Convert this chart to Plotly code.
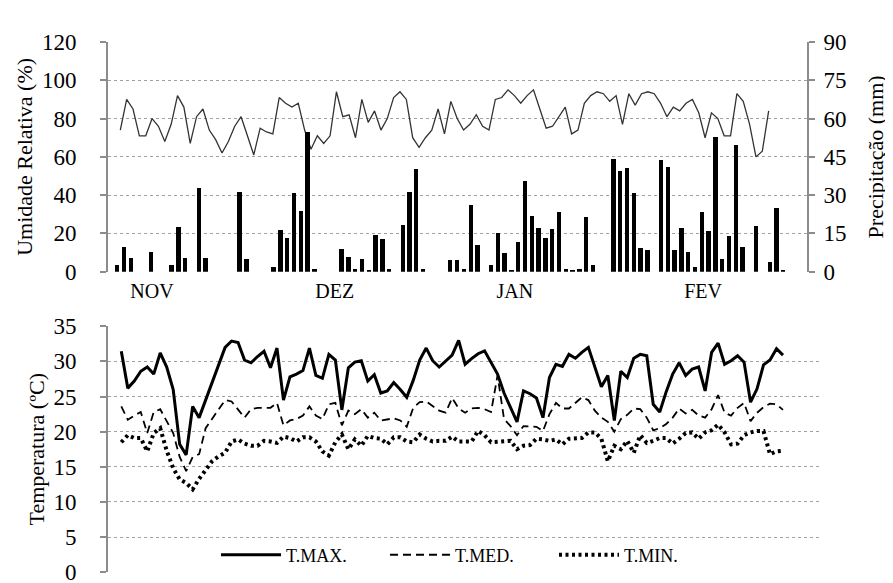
import plotly.graph_objects as go

# ---------------- data ----------------
months = ["NOV", "DEZ", "JAN", "FEV"]
month_pos = [5.1, 32.0, 58.5, 86.2]  # position on the precipitation (bar) day axis

umidade = [74, 90, 85, 71, 71, 80, 76, 68, 77, 92, 86, 67, 81, 85, 74, 69, 62, 68, 76, 81,
           71, 61, 75, 73, 72, 91, 88, 86, 88, 74, 64, 71, 67, 71, 94, 81, 82, 70, 90, 78,
           84, 74, 80, 91, 94, 90, 70, 65, 70, 74, 85, 72, 89, 80, 74, 77, 82, 76, 74, 90,
           91, 95, 92, 88, 92, 95, 85, 75, 76, 81, 86, 72, 74, 88, 92, 94, 93, 89, 92, 77,
           93, 87, 93, 94, 93, 88, 81, 86, 84, 88, 90, 83, 70, 83, 80, 71, 71, 93, 89, 77,
           60, 63, 84]

precipitacao = [2.75, 9.6, 5.25, 0, 0, 7.75, 0, 0, 2.75, 17.6,
                5.25, 0, 32.7, 5.5, 0, 0, 0, 0, 31.1, 4.9,
                0, 0, 0, 1.75, 16.5, 13.25, 30.75, 23.9, 54.6, 1.1,
                0, 0, 0, 9.0, 5.75, 1.1, 4.9, 0.75, 14.5, 13.0,
                0.9, 0, 18.25, 31.1, 40.1, 1.1, 0, 0, 0, 4.5,
                4.5, 1.25, 26.0, 10.4, 0, 2.5, 15.0, 7.25, 0.4, 11.6,
                35.6, 22.0, 17.25, 13.1, 16.9, 23.5, 1.25, 0.4, 1.25, 21.4,
                2.5, 0, 0, 44.1, 39.5, 40.6, 31.0, 9.4, 8.5, 0,
                43.75, 41.0, 8.5, 17.0, 7.9, 2.0, 23.5, 16.0, 52.6, 5.1,
                13.9, 49.75, 9.5, 0, 17.9, 0, 3.9, 25.1, 0.6]

t_max = [31.45, 26.2, 27.2, 28.6, 29.2, 28.2, 31.2, 29.2, 26.0, 18.2,
         16.7, 23.6, 22.0, 24.5, 27.0, 29.5, 32.0, 32.9, 32.7, 30.2,
         29.8, 30.7, 31.45, 29.1, 31.9, 24.5, 27.8, 28.2, 28.7, 31.9,
         28.0, 27.6, 31.0, 30.2, 23.1, 29.1, 29.9, 30.1, 27.2, 28.1,
         25.5, 25.8, 27.0, 26.0, 24.9, 27.3, 30.2, 31.9, 30.1, 29.2,
         30.0, 30.9, 33.0,
         29.6, 30.4, 31.1, 31.5, 29.9, 28.2, 25.5, 23.4, 21.4, 25.8,
         25.4, 24.8, 22.0, 27.7, 29.6, 29.3, 31.0, 30.45, 31.3, 32.0,
         29.1, 26.4, 28.0, 21.6, 28.6, 27.7, 30.45, 31.0, 30.8, 23.9,
         22.8, 25.7, 28.2, 29.8, 28.0, 28.9, 29.2, 25.8, 31.3, 32.6,
         29.6, 30.1, 30.8, 29.9, 24.2, 26.1, 29.5, 30.2, 31.8, 30.9]

t_med = [23.6, 21.7, 22.3, 22.8, 19.8, 22.8, 23.2, 21.5, 19.8, 16.4,
         14.4, 16.4, 16.8, 20.5, 21.8, 23.2, 24.5, 24.3, 23.2, 22.0,
         23.2, 23.4, 23.4, 23.4, 24.1, 20.9, 21.6, 21.8, 22.3, 23.6,
         22.3, 21.8, 23.9, 24.1, 20.9, 23.0, 22.5, 23.2, 22.0, 22.7,
         21.6, 21.8, 21.9, 21.6, 20.7, 23.4, 24.2, 24.3, 23.6, 23.0,
         22.7, 24.8, 23.3,
         22.7, 23.3, 23.4, 23.2, 22.8, 28.0, 21.8, 20.8, 19.5, 20.8,
         20.8, 20.7, 20.1, 22.5, 24.1, 23.3, 23.3, 24.1, 24.9, 24.5,
         23.0, 22.0, 21.4, 20.0, 21.8, 22.4, 23.3, 23.2, 22.0, 20.2,
         20.5, 21.1, 22.0, 23.3, 22.6, 23.1, 22.3, 22.0, 23.2, 25.2,
         22.7, 22.3, 23.4, 24.1, 21.5, 22.7, 23.5, 24.0, 23.9, 23.1]

t_min = [18.5, 19.5, 19.1, 19.1, 17.2, 19.8, 20.5, 17.3, 14.8, 13.2,
         12.7, 11.8, 13.3, 14.6, 15.8, 16.5, 17.0, 18.6, 18.9, 18.3,
         18.0, 18.0, 18.7, 18.6, 18.4, 19.3, 19.1, 18.6, 19.2, 19.2,
         18.6, 17.2, 16.6, 18.5, 19.6, 17.5, 18.9, 18.0, 19.4, 19.1,
         19.0, 18.2, 19.2, 19.2, 18.6, 18.5, 19.6, 19.0, 18.6, 18.7,
         18.7, 19.3, 18.6,
         18.6, 18.6, 20.1, 19.5, 18.5, 18.6, 18.6, 18.7, 17.5, 18.0,
         18.1, 19.0, 18.9, 18.7, 18.9, 18.2, 19.0, 19.1, 19.1, 19.9,
         19.9, 19.0, 15.8, 18.0, 17.5, 18.7, 17.0, 19.5, 18.4, 18.7,
         19.1, 19.1, 18.3, 19.0, 19.8, 19.9, 19.0, 19.9, 20.2, 21.0,
         19.9, 18.2, 18.3, 19.5, 19.9, 20.1, 20.1, 16.8, 17.2, 17.3]

# ---------------- figure ----------------
FONT = "Liberation Serif"
GRID = "#a0a0a0"
AXIS = "#8c8c8c"

fig = go.Figure()

fig.add_trace(go.Scatter(
    x=list(range(len(umidade))), y=umidade, xaxis="x", yaxis="y",
    mode="lines", line=dict(color="#333333", width=1.3), showlegend=False,
    hoverinfo="skip"))

fig.add_trace(go.Bar(
    x=list(range(len(precipitacao))), y=precipitacao, xaxis="x2", yaxis="y2",
    marker=dict(color="black", line=dict(width=0)), width=0.64, showlegend=False,
    hoverinfo="skip"))

tx = list(range(len(t_max)))
fig.add_trace(go.Scatter(x=tx, y=t_max, xaxis="x3", yaxis="y3", mode="lines",
                         name="T.MAX.", line=dict(color="black", width=3)))
fig.add_trace(go.Scatter(x=tx, y=t_med, xaxis="x3", yaxis="y3", mode="lines",
                         name="T.MED.", line=dict(color="black", width=1.8, dash="8px,5px")))
fig.add_trace(go.Scatter(x=tx, y=t_min, xaxis="x3", yaxis="y3", mode="lines",
                         name="T.MIN.", line=dict(color="black", width=4, dash="3px,3.5px")))

top_x = [100 / 893, 799 / 893]
bot_x = [100 / 893, 813 / 893]
top_y = [1 - 263 / 583, 1 - 23 / 583]
bot_y = [1 - 577 / 583, 1 - 320 / 583]

tickfont = dict(family=FONT, size=23, color="black")
titlefont = dict(family=FONT, size=22, color="black")

common_y = dict(showline=True, linecolor=AXIS, linewidth=2, ticks="outside",
                ticklen=6, tickcolor=AXIS, tickwidth=2, tickfont=tickfont,
                zeroline=False)

fig.update_layout(
    width=893, height=583,
    margin=dict(l=0, r=0, t=0, b=0),
    paper_bgcolor="white", plot_bgcolor="white",
    font=dict(family=FONT, color="black"),
    bargap=0,
    xaxis=dict(domain=top_x, anchor="y", range=[-1.935, 108.03],
               showgrid=False, zeroline=False, showticklabels=False, showline=False),
    xaxis2=dict(overlaying="x", anchor="y2", side="bottom", range=[-1.368, 101.49],
                showgrid=False, zeroline=False, showline=False,
                tickmode="array", tickvals=month_pos, ticktext=months,
                ticks="outside", ticklen=1, tickcolor="rgba(0,0,0,0)",
                tickfont=dict(family=FONT, size=20, color="black")),
    yaxis=dict(domain=top_y, anchor="x", range=[0, 120], dtick=20,
               showgrid=True, gridcolor=GRID, griddash="dot", gridwidth=1,
               title=dict(text="Umidade Relativa (%)", font=titlefont, standoff=3),
               ticklabelstandoff=19, **common_y),
    yaxis2=dict(overlaying="y", anchor="x2", side="right", range=[0, 90], dtick=15,
                showgrid=False,
                title=dict(text="Precipitação (mm)", font=titlefont, standoff=22),
                ticklabelstandoff=4, **common_y),
    xaxis3=dict(domain=bot_x, anchor="y3", range=[-2.05, 107.86],
                showgrid=False, zeroline=False, showticklabels=False, showline=False),
    yaxis3=dict(domain=bot_y, anchor="x3", range=[0, 35], dtick=5,
                showgrid=True, gridcolor=GRID, griddash="dot", gridwidth=1,
                title=dict(text="Temperatura (ºC)", font=titlefont, standoff=3),
                ticklabelstandoff=19, **common_y),
    legend=dict(orientation="h", x=208 / 893, y=1 - 559 / 583, xanchor="left", yanchor="middle",
                bgcolor="rgba(0,0,0,0)", font=dict(family=FONT, size=18, color="black"),
                itemwidth=60, entrywidth=94, entrywidthmode="pixels",
                traceorder="normal"),
)

fig.write_html("out.html")
